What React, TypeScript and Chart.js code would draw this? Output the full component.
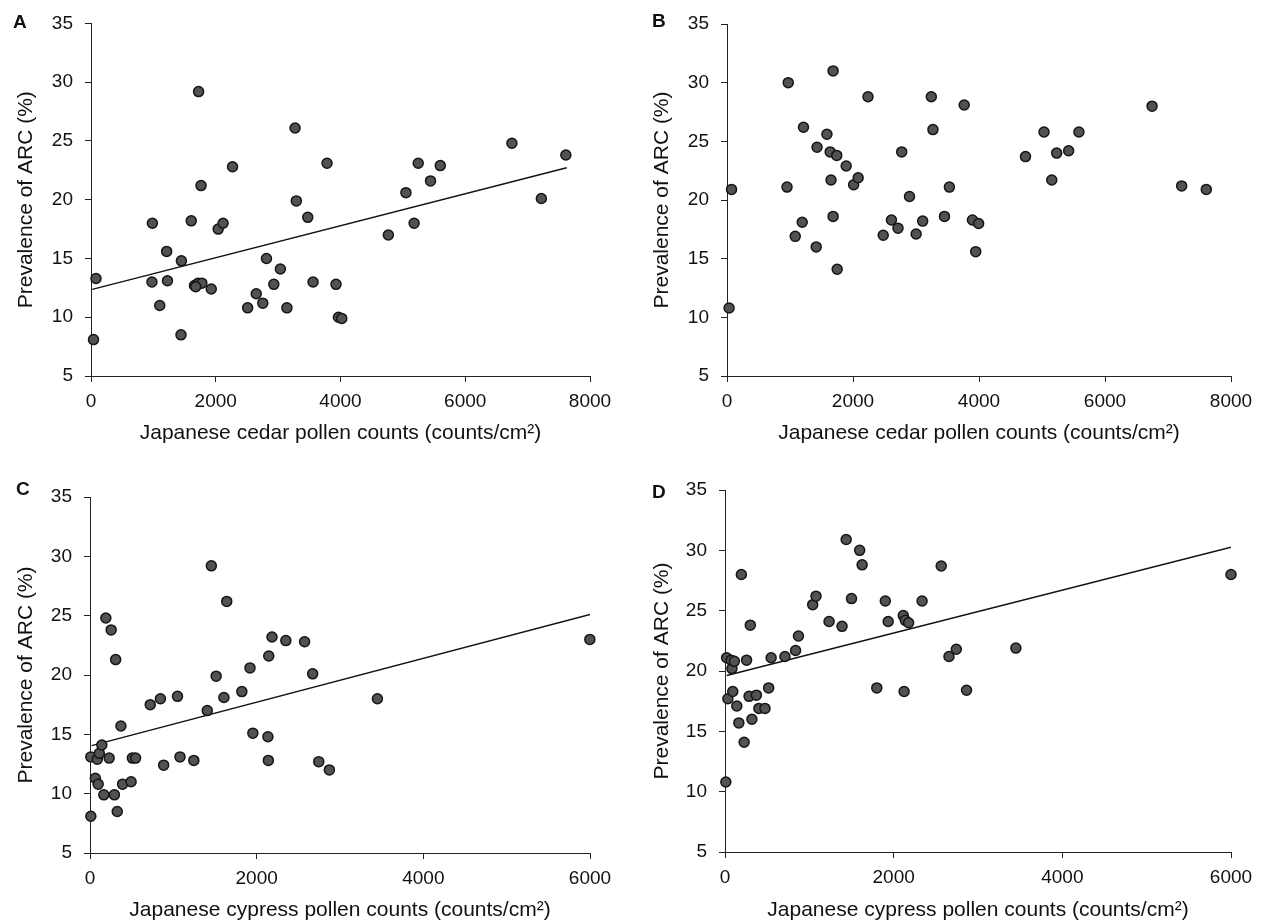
import React, { useEffect, useRef } from "react";
import { Chart, registerables } from "chart.js";
Chart.register(...registerables);

const FONT = "'Liberation Sans', Arial, sans-serif";

// Panel A: cedar pollen vs prevalence (regression line)
const aCedar = [40, 80, 984, 977, 1102, 1213, 1226, 1449, 1443, 1607, 1725, 1764, 1659, 1718, 1777, 1679, 1928, 2039, 2118, 2269, 2511, 2649, 2754, 2813, 2931, 3036, 3141, 3272, 3292, 3475, 3560, 3784, 3928, 3967, 4020, 4767, 5049, 5180, 5246, 5443, 5600, 6748, 7220, 7613];
const aPrev = [8.1, 13.3, 18.0, 13.0, 11.0, 15.6, 13.1, 14.8, 8.5, 18.2, 29.2, 21.2, 12.7, 12.9, 12.9, 12.6, 12.4, 17.5, 18.0, 22.8, 10.8, 12.0, 11.2, 15.0, 12.8, 14.1, 10.8, 26.1, 19.9, 18.5, 13.0, 23.1, 12.8, 10.0, 9.9, 17.0, 20.6, 18.0, 23.1, 21.6, 22.9, 24.8, 20.1, 23.8];
const aLineX = [20, 7626];
const aLineY = [12.37, 22.72];

// Panel B: cedar pollen vs prevalence (no line)
const bCedar = [33, 72, 953, 972, 1083, 1194, 1214, 1416, 1429, 1586, 1638, 1651, 1684, 1684, 1742, 1749, 1892, 2010, 2082, 2238, 2480, 2610, 2714, 2773, 2897, 3002, 3106, 3243, 3269, 3452, 3530, 3765, 3896, 3994, 3948, 4738, 5032, 5155, 5233, 5423, 5586, 6747, 7217, 7608];
const bPrev = [10.8, 20.9, 21.1, 30.0, 16.9, 18.1, 26.2, 16.0, 24.5, 25.6, 24.1, 21.7, 31.0, 18.6, 23.8, 14.1, 22.9, 21.3, 21.9, 28.8, 17.0, 18.3, 17.6, 24.1, 20.3, 17.1, 18.2, 28.8, 26.0, 18.6, 21.1, 28.1, 18.3, 18.0, 15.6, 23.7, 25.8, 21.7, 24.0, 24.2, 25.8, 28.0, 21.2, 20.9];

// Panel C: cypress pollen vs prevalence (regression line)
const cCypress = [10, 10, 88, 112, 64, 98, 142, 190, 166, 230, 254, 293, 308, 327, 371, 391, 493, 508, 547, 723, 845, 884, 1050, 1080, 1246, 1407, 1456, 1514, 1607, 1641, 1822, 1920, 1954, 2135, 2140, 2145, 2184, 2350, 2575, 2672, 2745, 2872, 3449, 5998];
const cPrev = [8.1, 13.1, 12.9, 13.4, 11.3, 10.8, 14.1, 24.8, 9.9, 13.0, 23.8, 9.9, 21.3, 8.5, 15.7, 10.8, 11.0, 13.0, 13.0, 17.5, 18.0, 12.4, 18.2, 13.1, 12.8, 17.0, 29.2, 19.9, 18.1, 26.2, 18.6, 20.6, 15.1, 14.8, 12.8, 21.6, 23.2, 22.9, 22.8, 20.1, 12.7, 12.0, 18.0, 23.0];
const cLineX = [20, 6000];
const cLineY = [14.05, 25.1];

// Panel D: cypress pollen vs prevalence (regression line)
const dCypress = [10, 19, 34, 73, 82, 111, 92, 140, 164, 194, 227, 256, 285, 300, 319, 372, 402, 474, 518, 547, 711, 837, 871, 1040, 1079, 1234, 1388, 1437, 1500, 1597, 1626, 1800, 1901, 1935, 2114, 2124, 2138, 2177, 2337, 2564, 2656, 2743, 2864, 3449, 6000];
const dPrev = [10.8, 21.1, 17.7, 20.9, 20.2, 20.8, 18.3, 17.1, 15.7, 28.0, 14.1, 20.9, 17.9, 23.8, 16.0, 18.0, 16.9, 16.9, 18.6, 21.1, 21.2, 21.7, 22.9, 25.5, 26.2, 24.1, 23.7, 30.9, 26.0, 30.0, 28.8, 18.6, 25.8, 24.1, 24.6, 18.3, 24.2, 24.0, 25.8, 28.7, 21.2, 21.8, 18.4, 21.9, 28.0];
const dLineX = [20, 6000];
const dLineY = [19.63, 30.26];

const cedarTitle = "Japanese cedar pollen counts (counts/cm\u00B2)";
const cypressTitle = "Japanese cypress pollen counts (counts/cm\u00B2)";
const yTitle = "Prevalence of ARC (%)";

type PanelProps = {
  left: number; top: number; width: number; height: number;
  xs: number[]; ys: number[]; lineX?: number[]; lineY?: number[];
  xMax: number; xTitle: string;
  pad: { top: number; right: number; bottom: number; left: number };
  yW: number; xH: number; yTitlePad: number; xTitlePad: number;
};

function Panel(p: PanelProps) {
  const ref = useRef<HTMLCanvasElement>(null);
  useEffect(() => {
    const tickFont = { family: FONT, size: 19 };
    const titleFont = { family: FONT, size: 21 };
    const datasets: any[] = [
      {
        type: "scatter",
        data: p.xs.map((x, i) => ({ x, y: p.ys[i] })),
        backgroundColor: "#525252",
        borderColor: "#151515",
        borderWidth: 1.5,
        pointRadius: 5,
        clip: false,
      },
    ];
    if (p.lineX && p.lineY) {
      datasets.push({
        type: "line",
        data: p.lineX.map((x, i) => ({ x, y: p.lineY![i] })),
        borderColor: "#111",
        borderWidth: 1.4,
        pointRadius: 0,
        showLine: true,
        fill: false,
      });
    }
    const chart = new Chart(ref.current!, {
      type: "scatter",
      data: { datasets },
      options: {
        responsive: false,
        animation: false,
        layout: { padding: p.pad },
        plugins: { legend: { display: false }, tooltip: { enabled: false } },
        scales: {
          x: {
            type: "linear",
            min: 0,
            max: p.xMax,
            ticks: { stepSize: 2000, font: tickFont, color: "#111", padding: 8, maxRotation: 0, callback: (v: any) => String(v) },
            grid: { drawOnChartArea: false, drawTicks: true, tickLength: 6, color: "#222" },
            border: { color: "#222", width: 1 },
            title: { display: true, text: p.xTitle, font: titleFont, color: "#111", padding: { top: 0, bottom: p.xTitlePad } },
            afterFit: (s: any) => { s.height = p.xH; },
          },
          y: {
            type: "linear",
            min: 5,
            max: 35,
            ticks: { stepSize: 5, font: tickFont, color: "#111", padding: 12, callback: (v: any) => String(v) },
            grid: { drawOnChartArea: false, drawTicks: true, tickLength: 6, color: "#222" },
            border: { color: "#222", width: 1 },
            title: { display: true, text: yTitle, font: titleFont, color: "#111", padding: { top: p.yTitlePad, bottom: 0 } },
            afterFit: (s: any) => { s.width = p.yW; },
          },
        },
      } as any,
    });
    return () => chart.destroy();
  }, []);
  return (
    <canvas
      ref={ref}
      width={p.width}
      height={p.height}
      style={{ position: "absolute", left: p.left, top: p.top, width: p.width, height: p.height }}
    />
  );
}

const letterStyle = (left: number, top: number): React.CSSProperties => ({
  position: "absolute",
  left,
  top,
  fontFamily: FONT,
  fontWeight: "bold",
  fontSize: 19,
  lineHeight: "19px",
  color: "#111",
});

export default function App() {
  return (
    <div style={{ position: "absolute", left: 0, top: 0, width: 1270, height: 923, background: "#fff" }}>
      <Panel left={0} top={0} width={635} height={460} xs={aCedar} ys={aPrev} lineX={aLineX} lineY={aLineY}
        xMax={8000} xTitle={cedarTitle} pad={{ top: 23, right: 45, bottom: 0, left: 0 }} yW={91} xH={84} yTitlePad={14} xTitlePad={14} />
      <Panel left={635} top={0} width={635} height={460} xs={bCedar} ys={bPrev}
        xMax={8000} xTitle={cedarTitle} pad={{ top: 24, right: 39, bottom: 0, left: 0 }} yW={92} xH={84} yTitlePad={15} xTitlePad={14} />
      <Panel left={0} top={460} width={635} height={463} xs={cCypress} ys={cPrev} lineX={cLineX} lineY={cLineY}
        xMax={6000} xTitle={cypressTitle} pad={{ top: 37, right: 45, bottom: 0, left: 0 }} yW={90} xH={70} yTitlePad={14} xTitlePad={0} />
      <Panel left={635} top={460} width={635} height={463} xs={dCypress} ys={dPrev} lineX={dLineX} lineY={dLineY}
        xMax={6000} xTitle={cypressTitle} pad={{ top: 30, right: 39, bottom: 0, left: 0 }} yW={90} xH={71} yTitlePad={15} xTitlePad={0} />
      <div style={letterStyle(13, 12)}>A</div>
      <div style={letterStyle(652, 11)}>B</div>
      <div style={letterStyle(16, 479)}>C</div>
      <div style={letterStyle(652, 482)}>D</div>
    </div>
  );
}
